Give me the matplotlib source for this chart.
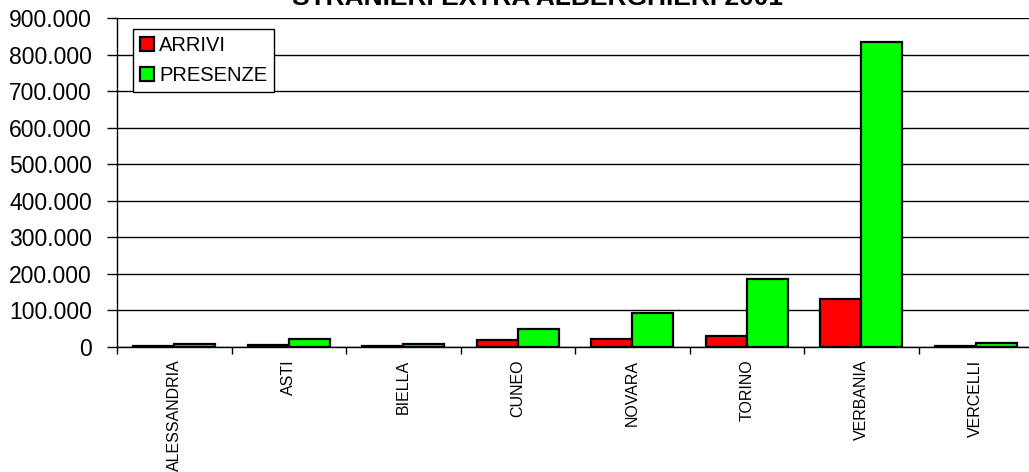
import matplotlib
matplotlib.use("Agg")
import matplotlib.pyplot as plt
import numpy as np
from matplotlib.ticker import FuncFormatter, MultipleLocator

categories = ["ALESSANDRIA", "ASTI", "BIELLA", "CUNEO", "NOVARA", "TORINO", "VERBANIA", "VERCELLI"]
arrivi = [3000, 5000, 2500, 18000, 22000, 29000, 131000, 2500]
presenze = [9000, 21000, 9000, 49000, 92000, 186000, 833000, 11000]
title = "STRANIERI EXTRA ALBERGHIERI 2001"

plt.rcParams['font.family'] = ['Liberation Sans', 'DejaVu Sans']

W, H = 1029, 472
fig = plt.figure(figsize=(W / 100, H / 100), dpi=100)
ax = fig.add_axes([117 / W, (H - 347) / H, (1033 - 117) / W, (347 - 18) / H])

x = np.arange(len(categories))
bw = 0.36
ax.bar(x - bw / 2, arrivi, bw, color="#FF0000", edgecolor="black", linewidth=1.6, label="ARRIVI", zorder=3)
ax.bar(x + bw / 2, presenze, bw, color="#00FF00", edgecolor="black", linewidth=1.6, label="PRESENZE", zorder=3)

ax.set_xlim(-0.5, len(categories) - 0.5)
ax.set_ylim(0, 900000)
ax.yaxis.set_major_locator(MultipleLocator(100000))
ax.yaxis.set_major_formatter(FuncFormatter(lambda v, p: f"{int(v):,}".replace(",", ".")))
ax.grid(axis="y", color="black", linewidth=1.0, zorder=0)

ax.set_xticks(x)
ax.set_xticklabels(categories, rotation=90, fontsize=11.5)
ax.set_xticks(np.arange(len(categories)) - 0.5, minor=True)
ax.tick_params(axis="x", which="major", length=0, pad=9)
ax.tick_params(axis="x", which="minor", length=5, width=1, direction="out", color="black")
ax.tick_params(axis="y", length=7, width=1, labelsize=16.5, pad=11)

for s in ["top", "right"]:
    ax.spines[s].set_visible(False)
ax.spines["left"].set_linewidth(1.0)
ax.spines["bottom"].set_linewidth(1.0)

leg = ax.legend(loc="upper left", bbox_to_anchor=(16 / 916, 1 - 11 / 329), fontsize=14.5,
                frameon=True, fancybox=False, edgecolor="black", framealpha=1,
                handlelength=0.7, handleheight=0.7, handletextpad=0.25,
                borderpad=0.35, labelspacing=0.55, borderaxespad=0)
leg.get_frame().set_linewidth(1.0)
for h in leg.legend_handles:
    h.set_linewidth(1.6)

fig.text(537 / W, 1 - 5 / H, title, ha="center", va="baseline", fontsize=19, fontweight="bold")

fig.savefig("out.png", dpi=100)
